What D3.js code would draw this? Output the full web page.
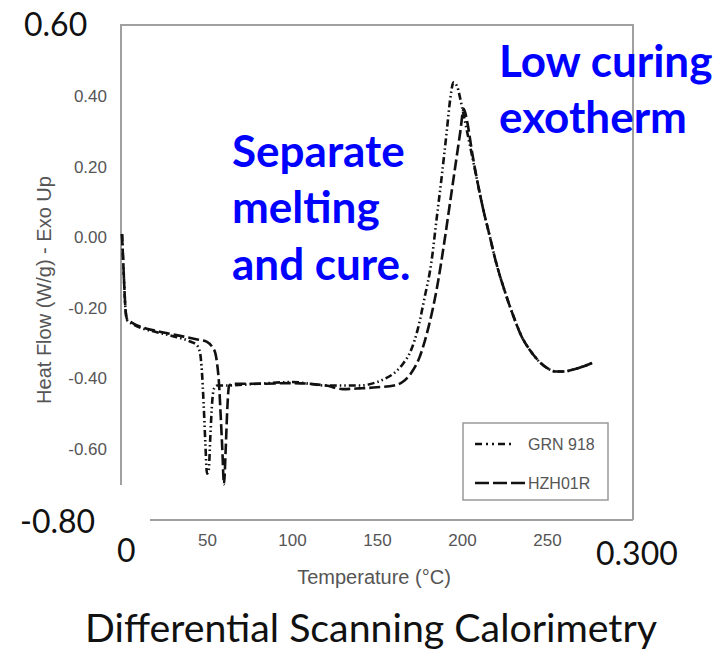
<!DOCTYPE html>
<html>
<head>
<meta charset="utf-8">
<script src="https://cdn.jsdelivr.net/npm/d3@7"></script>
<style>
  body { margin: 0; background: #fff; }
  svg { display: block; }
</style>
</head>
<body>
<svg id="chart" width="720" height="650"></svg>
<script>
// temperature (°C) vs heat flow (W/g)
const grnTemp = [0, 1, 2, 3, 6, 12, 20, 30, 40, 44, 46, 47, 48, 49, 50, 51, 52, 53, 54, 56, 60,
    80, 100, 120, 140, 150, 155, 160, 165, 170, 174, 178, 182, 185, 188, 191, 193, 195, 197, 200, 203, 206, 209,
    212, 216, 220, 225, 230, 235, 240, 245, 250, 255, 260, 265, 270, 277];
const grnFlow = [0.01, -0.1, -0.2, -0.235, -0.245, -0.258, -0.268, -0.28, -0.295, -0.305, -0.33, -0.38, -0.47, -0.58, -0.67, -0.66, -0.56, -0.47, -0.43, -0.42, -0.42,
    -0.415, -0.41, -0.42, -0.42, -0.41, -0.4, -0.385, -0.36, -0.32, -0.26, -0.17, -0.07, 0.05, 0.17, 0.3, 0.39, 0.44, 0.43, 0.37, 0.3, 0.23, 0.16,
    0.09, 0.01, -0.07, -0.15, -0.22, -0.28, -0.32, -0.35, -0.37, -0.38, -0.38, -0.375, -0.368, -0.355];

const hzhTemp = [0, 1, 2, 3, 6, 12, 20, 32, 45, 50, 53, 55, 56, 57, 58, 59, 60, 61, 62, 63, 66,
    80, 100, 120, 130, 140, 150, 160, 165, 170, 175, 180, 185, 190, 193, 196, 199, 201, 203, 206, 209,
    212, 216, 220, 225, 230, 235, 240, 245, 250, 255, 260, 265, 270, 277];
const hzhFlow = [0.01, -0.1, -0.2, -0.232, -0.242, -0.255, -0.265, -0.277, -0.29, -0.296, -0.31, -0.33, -0.36, -0.41, -0.5, -0.6, -0.7, -0.6, -0.48, -0.42, -0.415,
    -0.415, -0.413, -0.42, -0.43, -0.428, -0.425, -0.42, -0.41, -0.385, -0.34, -0.26, -0.15, 0.0, 0.1, 0.2, 0.3, 0.365, 0.33, 0.24, 0.16,
    0.09, 0.01, -0.07, -0.15, -0.22, -0.28, -0.32, -0.35, -0.37, -0.38, -0.38, -0.375, -0.368, -0.355];

const xTicks = [50, 100, 150, 200, 250];
const yTicks = [-0.6, -0.4, -0.2, 0, 0.2, 0.4];
const seriesNames = ["GRN 918", "HZH01R"];
const seriesDash = ["7,3,1.5,3,1.5,3", "11,4"];

const svg = d3.select("#chart");

const x = d3.scaleLinear().domain([0, 300]).range([122, 632]);
const y = d3.scaleLinear().domain([-0.8, 0.6]).range([519.5, 26]);

const grey = "#555";
const plotFont = "'Liberation Sans', Arial, sans-serif";

// frame of the pasted plot
const frame = svg.append("g").attr("stroke", "#a0a0a0").attr("stroke-width", 2).attr("fill", "none");
frame.append("path").attr("d", `M121,485 V25 H633 V520`);
frame.append("line").attr("x1", 150).attr("x2", 633).attr("y1", 520).attr("y2", 520);

// y axis labels
const yAxis = d3.axisLeft(y).tickValues(yTicks).tickSize(0).tickPadding(0)
    .tickFormat(d => d.toFixed(2));
const gy = svg.append("g").attr("transform", "translate(107,0)").call(yAxis);
gy.select(".domain").remove();
gy.selectAll("text").attr("font-family", plotFont).attr("font-size", 17)
    .attr("fill", grey);

// x axis labels
const xAxis = d3.axisBottom(x).tickValues(xTicks).tickSize(0).tickPadding(0);
const gx = svg.append("g").attr("transform", "translate(0,534)").call(xAxis);
gx.select(".domain").remove();
gx.selectAll("text").attr("font-family", plotFont).attr("font-size", 17)
    .attr("fill", grey);

svg.append("text")
    .attr("x", 374).attr("y", 584)
    .attr("text-anchor", "middle")
    .attr("font-family", plotFont).attr("font-size", 20)
    .attr("fill", grey)
    .text("Temperature (°C)");

svg.append("text")
    .attr("transform", "translate(51,290) rotate(-90)")
    .attr("text-anchor", "middle")
    .attr("font-family", plotFont).attr("font-size", 20)
    .attr("fill", grey)
    .text("Heat Flow (W/g) - Exo Up");

// curves
const line = d3.line()
    .x(d => x(d[0]))
    .y(d => y(d[1]))
    .curve(d3.curveMonotoneX);

const grnData = d3.zip(grnTemp, grnFlow);
const hzhData = d3.zip(hzhTemp, hzhFlow);

[grnData, hzhData].forEach((data, i) => {
    svg.append("path")
        .datum(data)
        .attr("fill", "none")
        .attr("stroke", "#111")
        .attr("stroke-width", 2.6)
        .attr("stroke-dasharray", seriesDash[i])
        .attr("d", line);
});

// legend
const legend = svg.append("g");
legend.append("rect")
    .attr("x", 463).attr("y", 423).attr("width", 145).attr("height", 77)
    .attr("fill", "#fff").attr("stroke", "#999").attr("stroke-width", 1.5);
seriesNames.forEach((name, i) => {
    const ly = 444 + i * 39;
    legend.append("line")
        .attr("x1", 475).attr("x2", i === 0 ? 512 : 528)
        .attr("y1", ly).attr("y2", ly)
        .attr("stroke", "#111").attr("stroke-width", 2.4)
        .attr("stroke-dasharray", i === 0 ? "7,4,2,4,2,4" : "14,4");
    legend.append("text")
        .attr("x", 528).attr("y", ly + 6)
        .attr("font-family", plotFont).attr("font-size", 16)
        .attr("fill", grey)
        .text(name);
});

// big black overlay labels
const bigFont = "Lato, 'Open Sans', sans-serif";
svg.append("text").attr("x", 24).attr("y", y(0.6) + 10)
    .attr("font-family", bigFont).attr("font-size", 32).attr("fill", "#111").text("0.60");
svg.append("text").attr("x", 20).attr("y", y(-0.8) + 13)
    .attr("font-family", bigFont).attr("font-size", 32).attr("fill", "#111").text("-0.80");
svg.append("text").attr("x", 117).attr("y", 562)
    .attr("font-family", bigFont).attr("font-size", 32).attr("fill", "#111").text("0");
svg.append("text").attr("x", 596).attr("y", 565)
    .attr("font-family", bigFont).attr("font-size", 32).attr("fill", "#111").text("0.300");

svg.append("text")
    .attr("x", 85).attr("y", 642)
    .attr("font-family", bigFont).attr("font-size", 39).attr("fill", "#111")
    .attr("textLength", 572).attr("lengthAdjust", "spacingAndGlyphs")
    .text("Differential Scanning Calorimetry");

// blue annotations
const notes = [
    { text: "Separate", x: 232, y: 167 },
    { text: "melting", x: 232, y: 223 },
    { text: "and cure.", x: 232, y: 280 },
    { text: "Low curing", x: 499, y: 77 },
    { text: "exotherm", x: 499, y: 133 }
];
svg.selectAll(".note")
    .data(notes)
    .join("text")
    .attr("class", "note")
    .attr("x", d => d.x).attr("y", d => d.y)
    .attr("font-family", bigFont).attr("font-size", 44).attr("font-weight", "bold")
    .attr("fill", "#0000ff")
    .text(d => d.text);
</script>
</body>
</html>
